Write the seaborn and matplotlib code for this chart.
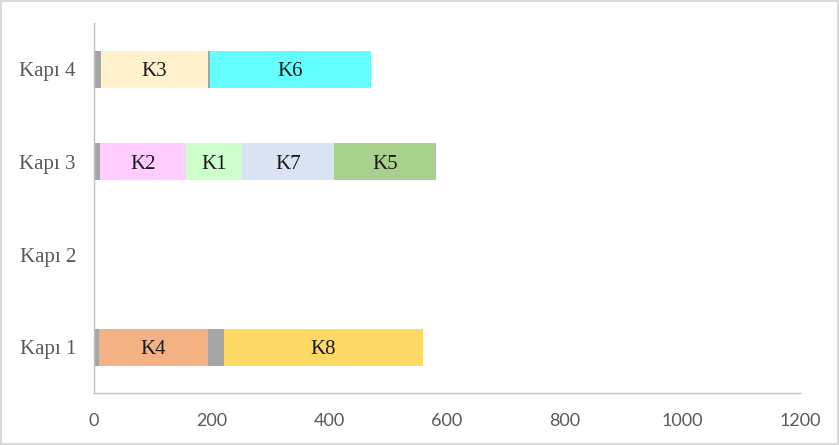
import matplotlib
matplotlib.use("Agg")
import matplotlib.pyplot as plt
import seaborn as sns
import numpy as np

sns.set_theme(style="white")

doors = ["Kapı 4", "Kapı 3", "Kapı 2", "Kapı 1"]

# segments per door: labels (None = idle/grey), durations, colours
seg_labels = {
    "Kapı 4": [None, "K3", None, "K6"],
    "Kapı 3": [None, "K2", "K1", "K7", "K5"],
    "Kapı 2": [],
    "Kapı 1": [None, "K4", None, "K8"],
}
seg_values = {
    "Kapı 4": [12, 182, 3, 274],
    "Kapı 3": [10, 146, 96, 156, 173],
    "Kapı 2": [],
    "Kapı 1": [8, 186, 27, 338],
}
job_colors = {
    None: "#A5A5A5",
    "K1": "#CCFFCC",
    "K2": "#FFCCFF",
    "K3": "#FFF2CC",
    "K4": "#F4B183",
    "K5": "#A9D18E",
    "K6": "#66FFFF",
    "K7": "#DAE3F3",
    "K8": "#FFD966",
}
xticks = [0, 200, 400, 600, 800, 1000, 1200]

fig = plt.figure(figsize=(8.39, 4.45), dpi=100)
fig.patch.set_edgecolor("#D9D9D9")
fig.patch.set_linewidth(1.5)
ax = fig.add_axes([0.112, 0.116, 0.8415, 0.832])

for pos, door in enumerate(doors):
    vals = seg_values[door]
    labs = seg_labels[door]
    if not vals:
        continue
    ends = np.cumsum(vals)
    starts = ends - np.array(vals)
    # draw from the last segment to the first so earlier ones overlay
    for i in range(len(vals) - 1, -1, -1):
        sns.barplot(x=[ends[i]], y=[door], order=doors, orient="h",
                    color=job_colors[labs[i]], saturation=1, width=0.4,
                    linewidth=0, ax=ax)
    for i, lab in enumerate(labs):
        if lab is not None:
            ax.text(starts[i] + vals[i] / 2, pos, lab, ha="center",
                    va="center_baseline",
                    fontsize=15, family=["Liberation Serif", "DejaVu Serif"],
                    color="#1a1a1a")

ax.set_xlim(0, 1200)
ax.set_ylim(3.5, -0.5)
ax.set_xticks(xticks)
ax.set_xticklabels([str(t) for t in xticks],
                   family=["Lato", "DejaVu Sans"],
                   fontsize=13, color="#595959")
ax.set_yticks(range(len(doors)))
ax.set_yticklabels(doors, family=["Liberation Serif", "DejaVu Serif"],
                   fontsize=15, color="#595959")
ax.tick_params(axis="both", length=0)
ax.tick_params(axis="x", pad=14)
ax.tick_params(axis="y", pad=13)
ax.set_xlabel("")
ax.set_ylabel("")
for s in ["top", "right"]:
    ax.spines[s].set_visible(False)
for s in ["left", "bottom"]:
    ax.spines[s].set_color("#BFBFBF")
    ax.spines[s].set_linewidth(1)
ax.grid(False)

fig.savefig("out.png", dpi=100, edgecolor=fig.get_edgecolor())
